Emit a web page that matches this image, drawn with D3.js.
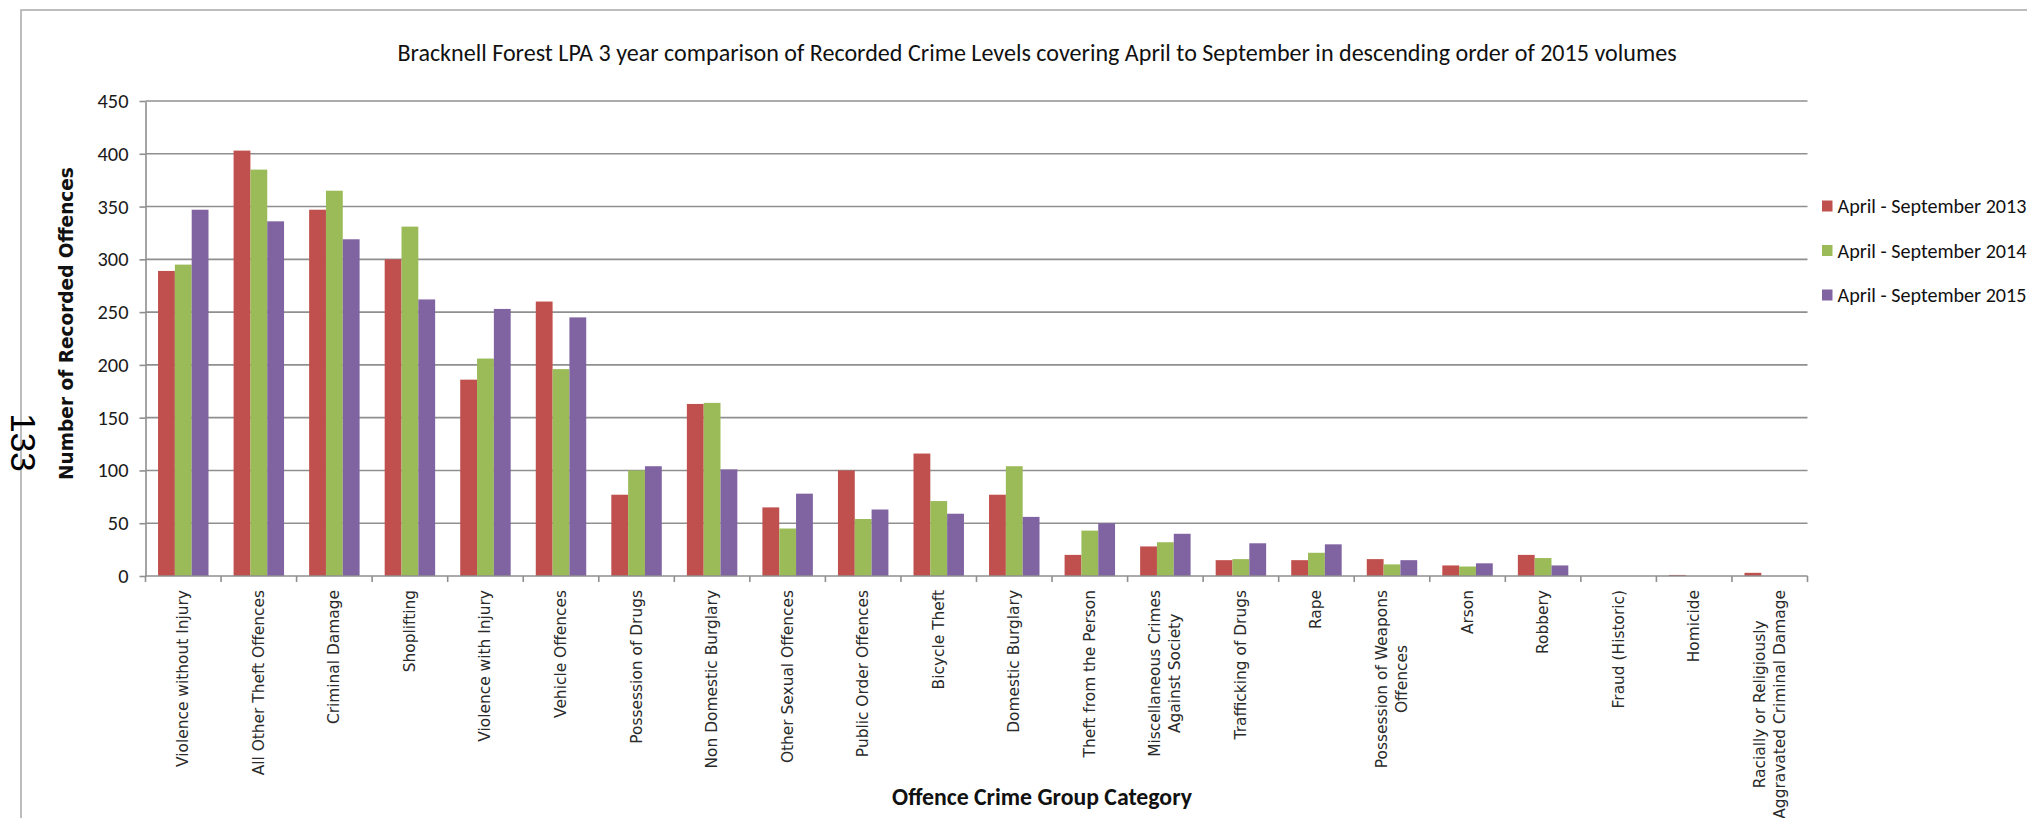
<!DOCTYPE html>
<html>
<head>
<meta charset="utf-8">
<script src="https://cdn.jsdelivr.net/npm/d3@7"></script>
<style>
  body { margin: 0; background: #ffffff; }
  svg { display: block; }
</style>
</head>
<body>
<svg id="chart" width="2027" height="818"></svg>
<script>
// Offence groups, ordered by April - September 2015 volume ("\n" marks a label line break)
const categories = [
  "Violence without Injury",
  "All Other Theft Offences",
  "Criminal Damage",
  "Shoplifting",
  "Violence with Injury",
  "Vehicle Offences",
  "Possession of Drugs",
  "Non Domestic Burglary",
  "Other Sexual Offences",
  "Public Order Offences",
  "Bicycle Theft",
  "Domestic Burglary",
  "Theft from the Person",
  "Miscellaneous Crimes\nAgainst Society",
  "Trafficking of Drugs",
  "Rape",
  "Possession of Weapons\nOffences",
  "Arson",
  "Robbery",
  "Fraud (Historic)",
  "Homicide",
  "Racially or Religiously\nAggravated Criminal Damage"
];

const seriesNames = ["April - September 2013", "April - September 2014", "April - September 2015"];

const values2013 = [289, 403, 347, 300, 186, 260, 77, 163, 65, 100, 116, 77, 20, 28, 15, 15, 16, 10, 20, 0, 1, 3];
const values2014 = [295, 385, 365, 331, 206, 196, 100, 164, 45, 54, 71, 104, 43, 32, 16, 22, 11, 9, 17, 0, 0, 0];
const values2015 = [347, 336, 319, 262, 253, 245, 104, 101, 78, 63, 59, 56, 50, 40, 31, 30, 15, 12, 10, 0, 0, 0];

const yTicks = [0, 50, 100, 150, 200, 250, 300, 350, 400, 450];

const chartTitle = "Bracknell Forest LPA 3 year comparison of Recorded Crime Levels covering April to September in descending order of 2015 volumes";
const yTitle = "Number of Recorded Offences";
const xTitle = "Offence Crime Group Category";
const pageNumber = "133";

const seriesColors = ["#C0504D", "#9BBB59", "#8064A2"];
const seriesValues = [values2013, values2014, values2015];

// ---- layout ----
const plot = { left: 145.5, right: 1807.5, top: 101, bottom: 576 };
const svg = d3.select("#chart");

const calibri = "Carlito, 'Liberation Sans Narrow', Lato, sans-serif";
const verdana = "'DejaVu Sans', Verdana, sans-serif";

// scale text so that its rendered length equals a given width
function fitText(sel, target) {
  const w = sel.node().getComputedTextLength();
  const fs = parseFloat(sel.attr("font-size"));
  if (w > 0) sel.attr("font-size", (fs * target / w).toFixed(2));
  return sel;
}

const x0 = d3.scaleBand()
  .domain(categories)
  .range([plot.left, plot.right])
  .paddingInner(0.332)
  .paddingOuter(0.166);

const x1 = d3.scaleBand()
  .domain(seriesNames)
  .range([0, x0.bandwidth()]);

const y = d3.scaleLinear()
  .domain([0, 450])
  .range([plot.bottom, plot.top]);

// page frame
svg.append("path")
  .attr("d", `M21,818 V10 H2027`)
  .attr("fill", "none")
  .attr("stroke", "#a8a8a8")
  .attr("stroke-width", 1.5);

// horizontal gridlines
svg.append("g").selectAll("line")
  .data(yTicks.filter(t => t > 0))
  .join("line")
  .attr("x1", plot.left).attr("x2", plot.right)
  .attr("y1", d => y(d)).attr("y2", d => y(d))
  .attr("stroke", "#8f8f8f")
  .attr("stroke-width", 1.6);

// bars
const groups = svg.append("g").selectAll("g")
  .data(categories.map((c, i) => ({ c, i })))
  .join("g")
  .attr("transform", d => `translate(${x0(d.c)},0)`);

groups.selectAll("rect")
  .data(d => seriesNames.map((s, k) => ({ s, k, v: seriesValues[k][d.i] })))
  .join("rect")
  .attr("x", d => x1(d.s))
  .attr("width", x1.bandwidth())
  .attr("y", d => y(d.v))
  .attr("height", d => y(0) - y(d.v))
  .attr("fill", d => seriesColors[d.k]);

// y axis
const yAxis = svg.append("g")
  .attr("transform", `translate(${plot.left},0)`)
  .call(d3.axisLeft(y).tickValues(yTicks).tickSize(6).tickPadding(11).tickSizeOuter(0));
yAxis.select(".domain").attr("stroke", "#8f8f8f").attr("stroke-width", 1.6);
yAxis.selectAll(".tick line").attr("stroke", "#8f8f8f").attr("stroke-width", 1.6);
yAxis.selectAll(".tick text")
  .attr("font-family", calibri)
  .attr("font-size", 20)
  .attr("fill", "#1a1a1a");
{
  const t450 = yAxis.selectAll(".tick text").filter(d => d === 450);
  fitText(t450, 31);
  yAxis.selectAll(".tick text").attr("font-size", t450.attr("font-size"));
}

// x axis baseline and category separators
svg.append("line")
  .attr("x1", plot.left).attr("x2", plot.right)
  .attr("y1", y(0)).attr("y2", y(0))
  .attr("stroke", "#8f8f8f").attr("stroke-width", 1.6);

const step = x0.step();
const sepX = d3.range(categories.length + 1).map(i => x0(categories[0]) - x0.paddingOuter() * step + i * step);
svg.append("g").selectAll("line")
  .data(sepX)
  .join("line")
  .attr("x1", d => d).attr("x2", d => d)
  .attr("y1", y(0)).attr("y2", y(0) + 6)
  .attr("stroke", "#8f8f8f").attr("stroke-width", 1.6);

// category labels, rotated, top-aligned under the axis
const labelTop = 590;
let labelSize = 13;
{
  const probe = svg.append("text").attr("font-family", verdana).attr("font-size", 13).text(categories[0]);
  fitText(probe, 177);
  labelSize = parseFloat(probe.attr("font-size"));
  probe.remove();
}
const lineH = labelSize * 1.3;
categories.forEach(c => {
  const lines = c.split("\n");
  const g = svg.append("g")
    .attr("transform", `translate(${x0(c) + x0.bandwidth() / 2},${labelTop}) rotate(-90)`);
  const texts = lines.map((ln, i) => g.append("text")
    .attr("font-family", verdana)
    .attr("font-size", labelSize)
    .attr("fill", "#2a2a2a")
    .attr("text-anchor", "middle")
    .attr("dominant-baseline", "central")
    .attr("y", (i - (lines.length - 1) / 2) * lineH)
    .text(ln));
  const L = d3.max(texts, t => t.node().getComputedTextLength());
  texts.forEach(t => t.attr("x", -L / 2));
});

// chart title
fitText(svg.append("text")
  .attr("x", 1037).attr("y", 52)
  .attr("text-anchor", "middle")
  .attr("dominant-baseline", "central")
  .attr("font-family", calibri)
  .attr("font-size", 22)
  .attr("fill", "#111")
  .text(chartTitle), 1280);

// y axis title
fitText(svg.append("text")
  .attr("transform", "translate(73,323.5) rotate(-90)")
  .attr("text-anchor", "middle")
  .attr("font-family", verdana)
  .attr("font-weight", "bold")
  .attr("font-size", 18)
  .attr("fill", "#111")
  .text(yTitle), 313);

// x axis title
fitText(svg.append("text")
  .attr("x", 1042).attr("y", 796)
  .attr("text-anchor", "middle")
  .attr("dominant-baseline", "central")
  .attr("font-family", calibri)
  .attr("font-weight", "bold")
  .attr("font-size", 22)
  .attr("fill", "#111")
  .text(xTitle), 300);

// legend
const legendY = [206, 250.5, 295];
const legend = svg.append("g").selectAll("g")
  .data(seriesNames)
  .join("g")
  .attr("transform", (d, i) => `translate(1822,${legendY[i]})`);
legend.append("rect")
  .attr("x", 0).attr("y", -5.5)
  .attr("width", 10.5).attr("height", 11)
  .attr("fill", (d, i) => seriesColors[i]);
const legendText = legend.append("text")
  .attr("x", 15.5)
  .attr("dominant-baseline", "central")
  .attr("font-family", calibri)
  .attr("font-size", 20)
  .attr("fill", "#111")
  .text(d => d);
{
  const first = d3.select(legendText.nodes()[0]);
  fitText(first, 189);
  legendText.attr("font-size", first.attr("font-size"));
}

// page number printed down the margin
svg.append("text")
  .attr("transform", "translate(23.5,442.5) rotate(90)")
  .attr("text-anchor", "middle")
  .attr("dominant-baseline", "central")
  .attr("font-family", "'Liberation Sans', Arial, sans-serif")
  .attr("font-size", 35)
  .attr("fill", "#000")
  .text(pageNumber);
</script>
</body>
</html>
